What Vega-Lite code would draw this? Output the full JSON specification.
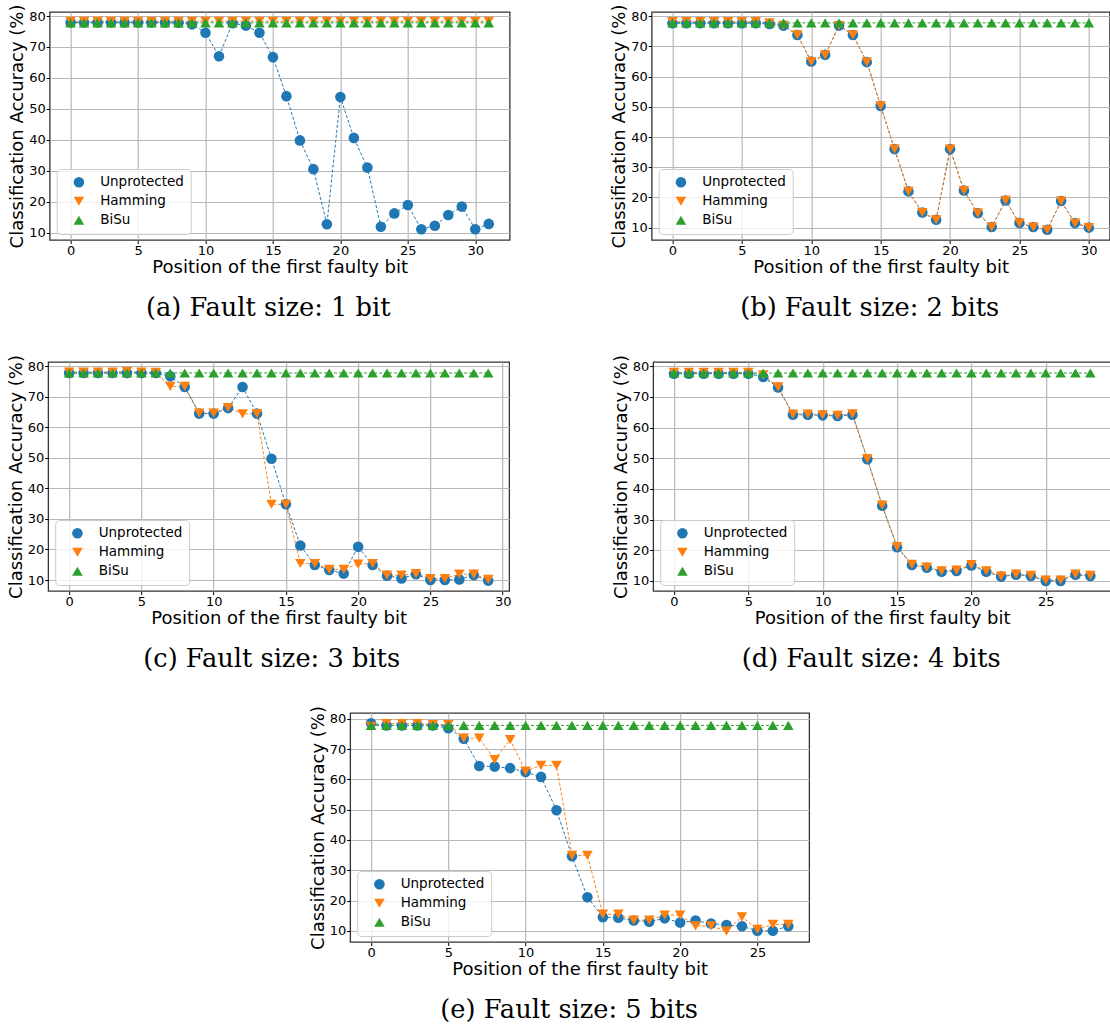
{
  "$schema": "https://vega.github.io/schema/vega-lite/v6.json",
  "padding": {"left": 6, "top": 3, "right": 0, "bottom": 0},
  "background": "white",
  "data": {"values": [
    {"p":"a","b":0,"Unprotected":77.9,"Hamming":78.3,"BiSu":77.8},
    {"p":"a","b":1,"Unprotected":77.9,"Hamming":78.3,"BiSu":77.8},
    {"p":"a","b":2,"Unprotected":77.9,"Hamming":78.3,"BiSu":77.8},
    {"p":"a","b":3,"Unprotected":77.9,"Hamming":78.3,"BiSu":77.8},
    {"p":"a","b":4,"Unprotected":77.9,"Hamming":78.3,"BiSu":77.8},
    {"p":"a","b":5,"Unprotected":77.9,"Hamming":78.3,"BiSu":77.8},
    {"p":"a","b":6,"Unprotected":77.9,"Hamming":78.3,"BiSu":77.8},
    {"p":"a","b":7,"Unprotected":77.9,"Hamming":78.3,"BiSu":77.8},
    {"p":"a","b":8,"Unprotected":77.8,"Hamming":78.3,"BiSu":77.8},
    {"p":"a","b":9,"Unprotected":77.3,"Hamming":78.3,"BiSu":77.8},
    {"p":"a","b":10,"Unprotected":74.6,"Hamming":78.3,"BiSu":77.8},
    {"p":"a","b":11,"Unprotected":67.0,"Hamming":78.3,"BiSu":77.8},
    {"p":"a","b":12,"Unprotected":77.7,"Hamming":78.3,"BiSu":77.8},
    {"p":"a","b":13,"Unprotected":76.9,"Hamming":78.3,"BiSu":77.8},
    {"p":"a","b":14,"Unprotected":74.6,"Hamming":78.3,"BiSu":77.8},
    {"p":"a","b":15,"Unprotected":66.7,"Hamming":78.3,"BiSu":77.8},
    {"p":"a","b":16,"Unprotected":54.1,"Hamming":78.3,"BiSu":77.8},
    {"p":"a","b":17,"Unprotected":39.8,"Hamming":78.3,"BiSu":77.8},
    {"p":"a","b":18,"Unprotected":30.5,"Hamming":78.3,"BiSu":77.8},
    {"p":"a","b":19,"Unprotected":12.7,"Hamming":78.3,"BiSu":77.8},
    {"p":"a","b":20,"Unprotected":53.8,"Hamming":78.3,"BiSu":77.8},
    {"p":"a","b":21,"Unprotected":40.6,"Hamming":78.3,"BiSu":77.8},
    {"p":"a","b":22,"Unprotected":31.0,"Hamming":78.3,"BiSu":77.8},
    {"p":"a","b":23,"Unprotected":11.9,"Hamming":78.3,"BiSu":77.8},
    {"p":"a","b":24,"Unprotected":16.2,"Hamming":78.3,"BiSu":77.8},
    {"p":"a","b":25,"Unprotected":18.9,"Hamming":78.3,"BiSu":77.8},
    {"p":"a","b":26,"Unprotected":11.1,"Hamming":78.3,"BiSu":77.8},
    {"p":"a","b":27,"Unprotected":12.2,"Hamming":78.3,"BiSu":77.8},
    {"p":"a","b":28,"Unprotected":15.7,"Hamming":78.3,"BiSu":77.8},
    {"p":"a","b":29,"Unprotected":18.4,"Hamming":78.3,"BiSu":77.8},
    {"p":"a","b":30,"Unprotected":11.1,"Hamming":78.3,"BiSu":77.8},
    {"p":"a","b":31,"Unprotected":12.8,"Hamming":78.3,"BiSu":77.8},

    {"p":"b","b":0,"Unprotected":77.7,"Hamming":78.2,"BiSu":77.8},
    {"p":"b","b":1,"Unprotected":77.7,"Hamming":78.2,"BiSu":77.8},
    {"p":"b","b":2,"Unprotected":77.7,"Hamming":78.2,"BiSu":77.8},
    {"p":"b","b":3,"Unprotected":77.7,"Hamming":78.2,"BiSu":77.8},
    {"p":"b","b":4,"Unprotected":77.7,"Hamming":78.2,"BiSu":77.8},
    {"p":"b","b":5,"Unprotected":77.7,"Hamming":78.2,"BiSu":77.8},
    {"p":"b","b":6,"Unprotected":77.7,"Hamming":78.2,"BiSu":77.8},
    {"p":"b","b":7,"Unprotected":77.4,"Hamming":77.8,"BiSu":77.8},
    {"p":"b","b":8,"Unprotected":76.9,"Hamming":77.0,"BiSu":77.8},
    {"p":"b","b":9,"Unprotected":73.8,"Hamming":73.8,"BiSu":77.8},
    {"p":"b","b":10,"Unprotected":65.0,"Hamming":65.0,"BiSu":77.8},
    {"p":"b","b":11,"Unprotected":67.2,"Hamming":67.2,"BiSu":77.8},
    {"p":"b","b":12,"Unprotected":76.9,"Hamming":76.9,"BiSu":77.8},
    {"p":"b","b":13,"Unprotected":73.8,"Hamming":73.8,"BiSu":77.8},
    {"p":"b","b":14,"Unprotected":64.8,"Hamming":64.8,"BiSu":77.8},
    {"p":"b","b":15,"Unprotected":50.3,"Hamming":50.3,"BiSu":77.8},
    {"p":"b","b":16,"Unprotected":36.0,"Hamming":36.0,"BiSu":77.8},
    {"p":"b","b":17,"Unprotected":22.0,"Hamming":22.0,"BiSu":77.8},
    {"p":"b","b":18,"Unprotected":15.0,"Hamming":15.0,"BiSu":77.8},
    {"p":"b","b":19,"Unprotected":12.6,"Hamming":12.6,"BiSu":77.8},
    {"p":"b","b":20,"Unprotected":36.0,"Hamming":36.0,"BiSu":77.8},
    {"p":"b","b":21,"Unprotected":22.3,"Hamming":22.3,"BiSu":77.8},
    {"p":"b","b":22,"Unprotected":14.8,"Hamming":14.8,"BiSu":77.8},
    {"p":"b","b":23,"Unprotected":10.2,"Hamming":10.2,"BiSu":77.8},
    {"p":"b","b":24,"Unprotected":19.0,"Hamming":19.0,"BiSu":77.8},
    {"p":"b","b":25,"Unprotected":11.5,"Hamming":11.5,"BiSu":77.8},
    {"p":"b","b":26,"Unprotected":10.2,"Hamming":10.2,"BiSu":77.8},
    {"p":"b","b":27,"Unprotected":9.3,"Hamming":9.3,"BiSu":77.8},
    {"p":"b","b":28,"Unprotected":18.8,"Hamming":18.8,"BiSu":77.8},
    {"p":"b","b":29,"Unprotected":11.5,"Hamming":11.5,"BiSu":77.8},
    {"p":"b","b":30,"Unprotected":10.0,"Hamming":10.0,"BiSu":77.8},

    {"p":"c","b":0,"Unprotected":77.8,"Hamming":78.1,"BiSu":77.8},
    {"p":"c","b":1,"Unprotected":77.8,"Hamming":78.1,"BiSu":77.8},
    {"p":"c","b":2,"Unprotected":77.8,"Hamming":78.1,"BiSu":77.8},
    {"p":"c","b":3,"Unprotected":77.8,"Hamming":78.1,"BiSu":77.8},
    {"p":"c","b":4,"Unprotected":77.8,"Hamming":78.3,"BiSu":77.8},
    {"p":"c","b":5,"Unprotected":77.8,"Hamming":78.1,"BiSu":77.8},
    {"p":"c","b":6,"Unprotected":77.8,"Hamming":78.0,"BiSu":77.8},
    {"p":"c","b":7,"Unprotected":76.7,"Hamming":73.4,"BiSu":77.8},
    {"p":"c","b":8,"Unprotected":73.2,"Hamming":73.4,"BiSu":77.8},
    {"p":"c","b":9,"Unprotected":64.5,"Hamming":64.7,"BiSu":77.8},
    {"p":"c","b":10,"Unprotected":64.5,"Hamming":64.7,"BiSu":77.8},
    {"p":"c","b":11,"Unprotected":66.3,"Hamming":66.5,"BiSu":77.8},
    {"p":"c","b":12,"Unprotected":73.2,"Hamming":64.4,"BiSu":77.8},
    {"p":"c","b":13,"Unprotected":64.5,"Hamming":64.5,"BiSu":77.8},
    {"p":"c","b":14,"Unprotected":49.7,"Hamming":34.8,"BiSu":77.8},
    {"p":"c","b":15,"Unprotected":34.8,"Hamming":34.8,"BiSu":77.8},
    {"p":"c","b":16,"Unprotected":21.3,"Hamming":15.4,"BiSu":77.8},
    {"p":"c","b":17,"Unprotected":14.9,"Hamming":15.4,"BiSu":77.8},
    {"p":"c","b":18,"Unprotected":13.3,"Hamming":13.5,"BiSu":77.8},
    {"p":"c","b":19,"Unprotected":12.1,"Hamming":13.5,"BiSu":77.8},
    {"p":"c","b":20,"Unprotected":20.9,"Hamming":15.2,"BiSu":77.8},
    {"p":"c","b":21,"Unprotected":14.9,"Hamming":15.4,"BiSu":77.8},
    {"p":"c","b":22,"Unprotected":11.4,"Hamming":11.6,"BiSu":77.8},
    {"p":"c","b":23,"Unprotected":10.5,"Hamming":11.6,"BiSu":77.8},
    {"p":"c","b":24,"Unprotected":11.9,"Hamming":12.1,"BiSu":77.8},
    {"p":"c","b":25,"Unprotected":10.0,"Hamming":10.5,"BiSu":77.8},
    {"p":"c","b":26,"Unprotected":10.0,"Hamming":10.5,"BiSu":77.8},
    {"p":"c","b":27,"Unprotected":10.2,"Hamming":11.9,"BiSu":77.8},
    {"p":"c","b":28,"Unprotected":11.6,"Hamming":11.9,"BiSu":77.8},
    {"p":"c","b":29,"Unprotected":9.8,"Hamming":10.2,"BiSu":77.8},

    {"p":"d","b":0,"Unprotected":77.6,"Hamming":78.0,"BiSu":77.8},
    {"p":"d","b":1,"Unprotected":77.6,"Hamming":78.0,"BiSu":77.8},
    {"p":"d","b":2,"Unprotected":77.6,"Hamming":78.0,"BiSu":77.8},
    {"p":"d","b":3,"Unprotected":77.6,"Hamming":78.0,"BiSu":77.8},
    {"p":"d","b":4,"Unprotected":77.6,"Hamming":78.0,"BiSu":77.8},
    {"p":"d","b":5,"Unprotected":77.6,"Hamming":78.0,"BiSu":77.8},
    {"p":"d","b":6,"Unprotected":76.5,"Hamming":77.2,"BiSu":77.8},
    {"p":"d","b":7,"Unprotected":73.1,"Hamming":73.3,"BiSu":77.8},
    {"p":"d","b":8,"Unprotected":64.2,"Hamming":64.4,"BiSu":77.8},
    {"p":"d","b":9,"Unprotected":64.2,"Hamming":64.4,"BiSu":77.8},
    {"p":"d","b":10,"Unprotected":64.0,"Hamming":64.2,"BiSu":77.8},
    {"p":"d","b":11,"Unprotected":63.8,"Hamming":64.0,"BiSu":77.8},
    {"p":"d","b":12,"Unprotected":64.2,"Hamming":64.5,"BiSu":77.8},
    {"p":"d","b":13,"Unprotected":49.7,"Hamming":49.9,"BiSu":77.8},
    {"p":"d","b":14,"Unprotected":34.5,"Hamming":34.7,"BiSu":77.8},
    {"p":"d","b":15,"Unprotected":21.0,"Hamming":21.2,"BiSu":77.8},
    {"p":"d","b":16,"Unprotected":15.2,"Hamming":15.4,"BiSu":77.8},
    {"p":"d","b":17,"Unprotected":14.3,"Hamming":14.5,"BiSu":77.8},
    {"p":"d","b":18,"Unprotected":13.0,"Hamming":13.3,"BiSu":77.8},
    {"p":"d","b":19,"Unprotected":13.2,"Hamming":13.5,"BiSu":77.8},
    {"p":"d","b":20,"Unprotected":15.0,"Hamming":15.3,"BiSu":77.8},
    {"p":"d","b":21,"Unprotected":13.0,"Hamming":13.3,"BiSu":77.8},
    {"p":"d","b":22,"Unprotected":11.4,"Hamming":11.6,"BiSu":77.8},
    {"p":"d","b":23,"Unprotected":12.0,"Hamming":12.2,"BiSu":77.8},
    {"p":"d","b":24,"Unprotected":11.6,"Hamming":11.8,"BiSu":77.8},
    {"p":"d","b":25,"Unprotected":10.0,"Hamming":10.3,"BiSu":77.8},
    {"p":"d","b":26,"Unprotected":10.0,"Hamming":10.3,"BiSu":77.8},
    {"p":"d","b":27,"Unprotected":12.0,"Hamming":12.2,"BiSu":77.8},
    {"p":"d","b":28,"Unprotected":11.6,"Hamming":11.8,"BiSu":77.8},

    {"p":"e","b":0,"Unprotected":78.5,"Hamming":77.5,"BiSu":77.8},
    {"p":"e","b":1,"Unprotected":77.8,"Hamming":78.4,"BiSu":77.8},
    {"p":"e","b":2,"Unprotected":77.8,"Hamming":78.4,"BiSu":77.8},
    {"p":"e","b":3,"Unprotected":77.8,"Hamming":78.4,"BiSu":77.8},
    {"p":"e","b":4,"Unprotected":77.8,"Hamming":78.1,"BiSu":77.8},
    {"p":"e","b":5,"Unprotected":76.9,"Hamming":78.1,"BiSu":77.8},
    {"p":"e","b":6,"Unprotected":73.4,"Hamming":73.6,"BiSu":77.8},
    {"p":"e","b":7,"Unprotected":64.4,"Hamming":73.6,"BiSu":77.8},
    {"p":"e","b":8,"Unprotected":64.2,"Hamming":66.5,"BiSu":77.8},
    {"p":"e","b":9,"Unprotected":63.7,"Hamming":73.1,"BiSu":77.8},
    {"p":"e","b":10,"Unprotected":62.4,"Hamming":62.7,"BiSu":77.8},
    {"p":"e","b":11,"Unprotected":60.8,"Hamming":64.6,"BiSu":77.8},
    {"p":"e","b":12,"Unprotected":49.8,"Hamming":64.6,"BiSu":77.8},
    {"p":"e","b":13,"Unprotected":34.6,"Hamming":34.9,"BiSu":77.8},
    {"p":"e","b":14,"Unprotected":21.1,"Hamming":34.9,"BiSu":77.8},
    {"p":"e","b":15,"Unprotected":14.5,"Hamming":15.5,"BiSu":77.8},
    {"p":"e","b":16,"Unprotected":14.3,"Hamming":15.5,"BiSu":77.8},
    {"p":"e","b":17,"Unprotected":13.4,"Hamming":13.5,"BiSu":77.8},
    {"p":"e","b":18,"Unprotected":13.0,"Hamming":13.5,"BiSu":77.8},
    {"p":"e","b":19,"Unprotected":14.1,"Hamming":15.2,"BiSu":77.8},
    {"p":"e","b":20,"Unprotected":12.7,"Hamming":15.2,"BiSu":77.8},
    {"p":"e","b":21,"Unprotected":13.4,"Hamming":11.6,"BiSu":77.8},
    {"p":"e","b":22,"Unprotected":12.4,"Hamming":11.6,"BiSu":77.8},
    {"p":"e","b":23,"Unprotected":11.9,"Hamming":9.9,"BiSu":77.8},
    {"p":"e","b":24,"Unprotected":11.5,"Hamming":14.6,"BiSu":77.8},
    {"p":"e","b":25,"Unprotected":10.0,"Hamming":10.5,"BiSu":77.8},
    {"p":"e","b":26,"Unprotected":10.0,"Hamming":12.1,"BiSu":77.8},
    {"p":"e","b":27,"Unprotected":11.5,"Hamming":12.1,"BiSu":77.8}
  ]},
  "spacing": 32,
  "center": true,
  "resolve": {"scale": {"x": "independent", "y": "independent", "color": "independent", "shape": "independent", "stroke": "independent"}, "legend": {"color": "independent", "shape": "independent"}},
  "vconcat": [
    {
      "spacing": 99,
      "resolve": {"scale": {"x": "independent", "y": "independent", "color": "independent", "shape": "independent", "stroke": "independent"}, "legend": {"color": "independent", "shape": "independent"}},
      "hconcat": [
        {
          "width": 460, "height": 228,
          "title": {"text": "(a) Fault size: 1 bit", "dx": -11.5},
          "transform": [{"filter": "datum.p == 'a'"}, {"fold": ["Unprotected", "Hamming", "BiSu"], "as": ["series", "acc"]}],
          "encoding": {
            "x": {"field": "b", "type": "quantitative", "scale": {"domain": [-1.55, 32.55], "nice": false, "zero": false}, "axis": {"values": [0, 5, 10, 15, 20, 25, 30], "title": "Position of the first faulty bit"}},
            "y": {"field": "acc", "type": "quantitative", "scale": {"domain": [7.6, 81.3], "nice": false, "zero": false}, "axis": {"values": [10, 20, 30, 40, 50, 60, 70, 80], "title": "Classification Accuracy (%)"}}
          },
          "layer": [
            {"mark": {"type": "line", "strokeDash": [3, 2], "strokeWidth": 1}, "encoding": {"stroke": {"field": "series", "type": "nominal", "scale": {"domain": ["BiSu", "Hamming", "Unprotected"], "range": ["#2ca02c", "#ff7f0e", "#1f77b4"]}, "legend": null}}},
            {"mark": {"type": "point", "filled": true, "opacity": 1, "size": 112}, "encoding": {
              "color": {"field": "series", "type": "nominal", "scale": {"domain": ["Unprotected", "Hamming", "BiSu"], "range": ["#1f77b4", "#ff7f0e", "#2ca02c"]}, "legend": {"title": null}},
              "shape": {"field": "series", "type": "nominal", "scale": {"domain": ["Unprotected", "Hamming", "BiSu"], "range": ["circle", "triangle-down", "triangle-up"]}, "legend": {"title": null}},
              "order": {"field": "series", "type": "nominal", "sort": "descending"}
            }}
          ]
        },
        {
          "width": 458, "height": 228,
          "title": {"text": "(b) Fault size: 2 bits", "dx": -11},
          "transform": [{"filter": "datum.p == 'b'"}, {"fold": ["Unprotected", "Hamming", "BiSu"], "as": ["series", "acc"]}],
          "encoding": {
            "x": {"field": "b", "type": "quantitative", "scale": {"domain": [-1.5, 31.5], "nice": false, "zero": false}, "axis": {"values": [0, 5, 10, 15, 20, 25, 30], "title": "Position of the first faulty bit"}},
            "y": {"field": "acc", "type": "quantitative", "scale": {"domain": [5.9, 81.4], "nice": false, "zero": false}, "axis": {"values": [10, 20, 30, 40, 50, 60, 70, 80], "title": "Classification Accuracy (%)"}}
          },
          "layer": [
            {"mark": {"type": "line", "strokeDash": [3, 2], "strokeWidth": 1}, "encoding": {"stroke": {"field": "series", "type": "nominal", "scale": {"domain": ["BiSu", "Hamming", "Unprotected"], "range": ["#2ca02c", "#ff7f0e", "#1f77b4"]}, "legend": null}}},
            {"mark": {"type": "point", "filled": true, "opacity": 1, "size": 112}, "encoding": {
              "color": {"field": "series", "type": "nominal", "scale": {"domain": ["Unprotected", "Hamming", "BiSu"], "range": ["#1f77b4", "#ff7f0e", "#2ca02c"]}, "legend": {"title": null}},
              "shape": {"field": "series", "type": "nominal", "scale": {"domain": ["Unprotected", "Hamming", "BiSu"], "range": ["circle", "triangle-down", "triangle-up"]}, "legend": {"title": null}},
              "order": {"field": "series", "type": "nominal", "sort": "descending"}
            }}
          ]
        }
      ]
    },
    {
      "spacing": 99,
      "resolve": {"scale": {"x": "independent", "y": "independent", "color": "independent", "shape": "independent", "stroke": "independent"}, "legend": {"color": "independent", "shape": "independent"}},
      "hconcat": [
        {
          "width": 461, "height": 229,
          "title": {"text": "(c) Fault size: 3 bits", "dx": -7},
          "transform": [{"filter": "datum.p == 'c'"}, {"fold": ["Unprotected", "Hamming", "BiSu"], "as": ["series", "acc"]}],
          "encoding": {
            "x": {"field": "b", "type": "quantitative", "scale": {"domain": [-1.45, 30.45], "nice": false, "zero": false}, "axis": {"values": [0, 5, 10, 15, 20, 25, 30], "title": "Position of the first faulty bit"}},
            "y": {"field": "acc", "type": "quantitative", "scale": {"domain": [6.4, 81.4], "nice": false, "zero": false}, "axis": {"values": [10, 20, 30, 40, 50, 60, 70, 80], "title": "Classification Accuracy (%)"}}
          },
          "layer": [
            {"mark": {"type": "line", "strokeDash": [3, 2], "strokeWidth": 1}, "encoding": {"stroke": {"field": "series", "type": "nominal", "scale": {"domain": ["BiSu", "Hamming", "Unprotected"], "range": ["#2ca02c", "#ff7f0e", "#1f77b4"]}, "legend": null}}},
            {"mark": {"type": "point", "filled": true, "opacity": 1, "size": 112}, "encoding": {
              "color": {"field": "series", "type": "nominal", "scale": {"domain": ["Unprotected", "Hamming", "BiSu"], "range": ["#1f77b4", "#ff7f0e", "#2ca02c"]}, "legend": {"title": null}},
              "shape": {"field": "series", "type": "nominal", "scale": {"domain": ["Unprotected", "Hamming", "BiSu"], "range": ["circle", "triangle-down", "triangle-up"]}, "legend": {"title": null}},
              "order": {"field": "series", "type": "nominal", "sort": "descending"}
            }}
          ]
        },
        {
          "width": 458, "height": 229,
          "title": {"text": "(d) Fault size: 4 bits", "dx": -11},
          "transform": [{"filter": "datum.p == 'd'"}, {"fold": ["Unprotected", "Hamming", "BiSu"], "as": ["series", "acc"]}],
          "encoding": {
            "x": {"field": "b", "type": "quantitative", "scale": {"domain": [-1.4, 29.4], "nice": false, "zero": false}, "axis": {"values": [0, 5, 10, 15, 20, 25], "title": "Position of the first faulty bit"}},
            "y": {"field": "acc", "type": "quantitative", "scale": {"domain": [6.7, 81.4], "nice": false, "zero": false}, "axis": {"values": [10, 20, 30, 40, 50, 60, 70, 80], "title": "Classification Accuracy (%)"}}
          },
          "layer": [
            {"mark": {"type": "line", "strokeDash": [3, 2], "strokeWidth": 1}, "encoding": {"stroke": {"field": "series", "type": "nominal", "scale": {"domain": ["BiSu", "Hamming", "Unprotected"], "range": ["#2ca02c", "#ff7f0e", "#1f77b4"]}, "legend": null}}},
            {"mark": {"type": "point", "filled": true, "opacity": 1, "size": 112}, "encoding": {
              "color": {"field": "series", "type": "nominal", "scale": {"domain": ["Unprotected", "Hamming", "BiSu"], "range": ["#1f77b4", "#ff7f0e", "#2ca02c"]}, "legend": {"title": null}},
              "shape": {"field": "series", "type": "nominal", "scale": {"domain": ["Unprotected", "Hamming", "BiSu"], "range": ["circle", "triangle-down", "triangle-up"]}, "legend": {"title": null}},
              "order": {"field": "series", "type": "nominal", "sort": "descending"}
            }}
          ]
        }
      ]
    },
    {
      "width": 459, "height": 229,
      "title": {"text": "(e) Fault size: 5 bits", "dx": -10.5},
      "transform": [{"filter": "datum.p == 'e'"}, {"fold": ["Unprotected", "Hamming", "BiSu"], "as": ["series", "acc"]}],
      "encoding": {
        "x": {"field": "b", "type": "quantitative", "scale": {"domain": [-1.35, 28.35], "nice": false, "zero": false}, "axis": {"values": [0, 5, 10, 15, 20, 25], "title": "Position of the first faulty bit"}},
        "y": {"field": "acc", "type": "quantitative", "scale": {"domain": [6.3, 81.9], "nice": false, "zero": false}, "axis": {"values": [10, 20, 30, 40, 50, 60, 70, 80], "title": "Classification Accuracy (%)"}}
      },
      "layer": [
        {"mark": {"type": "line", "strokeDash": [3, 2], "strokeWidth": 1}, "encoding": {"stroke": {"field": "series", "type": "nominal", "scale": {"domain": ["BiSu", "Hamming", "Unprotected"], "range": ["#2ca02c", "#ff7f0e", "#1f77b4"]}, "legend": null}}},
        {"mark": {"type": "point", "filled": true, "opacity": 1, "size": 112}, "encoding": {
          "color": {"field": "series", "type": "nominal", "scale": {"domain": ["Unprotected", "Hamming", "BiSu"], "range": ["#1f77b4", "#ff7f0e", "#2ca02c"]}, "legend": {"title": null}},
          "shape": {"field": "series", "type": "nominal", "scale": {"domain": ["Unprotected", "Hamming", "BiSu"], "range": ["circle", "triangle-down", "triangle-up"]}, "legend": {"title": null}},
          "order": {"field": "series", "type": "nominal", "sort": "descending"}
        }}
      ]
    }
  ],
  "config": {
    "view": {"stroke": "#333333", "strokeWidth": 1.3},
    "axis": {"grid": true, "gridColor": "#b8b8b8", "gridWidth": 1.2, "domain": false, "tickColor": "#000000", "tickSize": 3.5, "tickWidth": 1, "labelFont": "DejaVu Sans", "labelFontSize": 13, "labelColor": "#000000", "titleFont": "DejaVu Sans", "titleFontSize": 18, "titleFontWeight": "normal", "titleColor": "#000000", "labelPadding": 1, "titlePadding": 1},
    "axisY": {"titlePadding": 2},
    "title": {"font": "DejaVu Serif", "fontSize": 25.7, "fontWeight": "normal", "color": "#000000", "orient": "bottom", "offset": 19, "anchor": "middle"},
    "legend": {"orient": "bottom-left", "direction": "vertical", "offset": 6.5, "fillColor": "rgba(255,255,255,0.8)", "strokeColor": "#cccccc", "cornerRadius": 4, "padding": 6.5, "labelFont": "DejaVu Sans", "labelFontSize": 13.5, "labelColor": "#000000", "symbolSize": 112, "symbolOffset": 9, "labelOffset": 14.5, "rowPadding": 4, "symbolStrokeWidth": 0}
  }
}
